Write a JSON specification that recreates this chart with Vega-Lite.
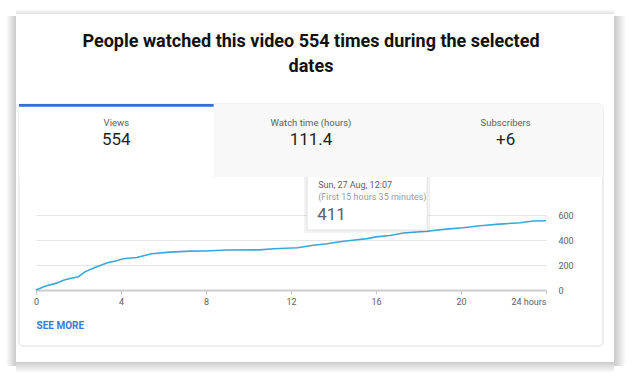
{
  "$schema": "https://vega.github.io/schema/vega-lite/v6.json",
  "autosize": "none",
  "width": 510,
  "height": 75,
  "padding": {"left": 36, "top": 215, "right": 90, "bottom": 87},
  "background": "white",
  "config": {"font": "Roboto", "view": {"stroke": null}},
  "title": {
    "text": ["People watched this video 554 times during the selected", "dates"],
    "fontSize": 18,
    "fontWeight": "bold",
    "color": "#111111",
    "lineHeight": 25,
    "anchor": "middle",
    "frame": "group",
    "dx": 20,
    "offset": -67
  },
  "layer": [
    {
      "data": {"values": [
        {"hour": 0, "views": 0}, {"hour": 0.42, "views": 30}, {"hour": 0.97, "views": 55},
        {"hour": 1.29, "views": 78}, {"hour": 1.6, "views": 92}, {"hour": 2.0, "views": 106},
        {"hour": 2.3, "views": 145}, {"hour": 2.86, "views": 186}, {"hour": 3.4, "views": 220},
        {"hour": 3.8, "views": 234}, {"hour": 4.1, "views": 250}, {"hour": 4.74, "views": 260},
        {"hour": 5.44, "views": 290}, {"hour": 6.3, "views": 303}, {"hour": 7.25, "views": 311},
        {"hour": 7.95, "views": 312}, {"hour": 8.97, "views": 320}, {"hour": 10.5, "views": 321},
        {"hour": 11.2, "views": 330}, {"hour": 12.3, "views": 338}, {"hour": 13.05, "views": 358},
        {"hour": 13.7, "views": 370}, {"hour": 14.3, "views": 386}, {"hour": 14.9, "views": 398},
        {"hour": 15.58, "views": 411}, {"hour": 16.0, "views": 425}, {"hour": 16.66, "views": 436},
        {"hour": 17.3, "views": 456}, {"hour": 18.4, "views": 470}, {"hour": 19.3, "views": 487},
        {"hour": 20.1, "views": 498}, {"hour": 20.9, "views": 514}, {"hour": 21.8, "views": 527},
        {"hour": 22.8, "views": 538}, {"hour": 23.4, "views": 552}, {"hour": 24, "views": 554}
      ]},
      "layer": [
        {
          "mark": {"type": "line", "color": "#3aa8d8", "strokeWidth": 1.6},
          "encoding": {
            "x": {
              "field": "hour", "type": "quantitative",
              "scale": {"domain": [0, 24], "nice": false, "zero": false},
              "axis": {
                "values": [0, 4, 8, 12, 16, 20, 24],
                "grid": false,
                "domainColor": "#cccccc", "domainWidth": 2,
                "tickColor": "#cccccc", "tickSize": 4,
                "labelPadding": 3, "labelFontSize": 9, "labelColor": "#606060",
                "labelExpr": "datum.value == 24 ? '24 hours' : datum.label",
                "labelAlign": {"condition": {"test": "datum.value == 24", "value": "right"}, "value": "center"},
                "title": "SEE MORE",
                "titleAnchor": "start", "titleAlign": "left",
                "titleColor": "#3c78d8", "titleFontWeight": "bold", "titleFontSize": 10,
                "titlePadding": 14
              }
            },
            "y": {
              "field": "views", "type": "quantitative",
              "scale": {"domain": [0, 600], "nice": false},
              "axis": {
                "orient": "right",
                "values": [0, 200, 400, 600],
                "labelOverlap": false,
                "grid": true, "gridColor": "#e6e6e6",
                "domain": false, "ticks": false,
                "labelPadding": 12, "labelFontSize": 9, "labelColor": "#606060",
                "title": null
              }
            }
          }
        },
        {
          "data": {"values": [{}]},
          "mark": {"type": "rect", "fill": {"gradient": "linear", "x1": 0, "y1": 0, "x2": 1, "y2": 0, "stops": [{"offset": 0, "color": "#ffffff"}, {"offset": 1, "color": "#c9c9c9"}]}},
          "encoding": {
            "x": {"datum": -1.4118, "type": "quantitative", "axis": null}, "x2": {"datum": -0.9412},
            "y": {"datum": 2192, "type": "quantitative", "axis": null}, "y2": {"datum": -608}
          }
        },
        {
          "data": {"values": [{}]},
          "mark": {"type": "rect", "fill": {"gradient": "linear", "x1": 0, "y1": 0, "x2": 1, "y2": 0, "stops": [{"offset": 0, "color": "#c9c9c9"}, {"offset": 1, "color": "#ffffff"}]}},
          "encoding": {
            "x": {"datum": 27.2, "type": "quantitative", "axis": null}, "x2": {"datum": 27.765},
            "y": {"datum": 2192, "type": "quantitative", "axis": null}, "y2": {"datum": -608}
          }
        },
        {
          "data": {"values": [{}]},
          "mark": {"type": "rect", "fill": {"gradient": "linear", "x1": 0, "y1": 0, "x2": 0, "y2": 1, "stops": [{"offset": 0, "color": "#cbcbcb"}, {"offset": 1, "color": "#ffffff"}]}},
          "encoding": {
            "x": {"datum": -0.9412, "type": "quantitative", "axis": null}, "x2": {"datum": 27.2},
            "y": {"datum": -576, "type": "quantitative", "axis": null}, "y2": {"datum": -664}
          }
        },
        {
          "data": {"values": [{}]},
          "mark": {"type": "rect", "fill": {"gradient": "linear", "x1": 0, "y1": 0, "x2": 0, "y2": 1, "stops": [{"offset": 0, "color": "#ffffff"}, {"offset": 1, "color": "#e2e2e2"}]}},
          "encoding": {
            "x": {"datum": -0.9412, "type": "quantitative", "axis": null}, "x2": {"datum": 27.2},
            "y": {"datum": 2248, "type": "quantitative", "axis": null}, "y2": {"datum": 2208}
          }
        },
        {
          "data": {"values": [{}]},
          "mark": {"type": "rect", "fill": null, "stroke": "#dedede", "strokeWidth": 1, "cornerRadius": 4},
          "encoding": {
            "x": {"datum": -0.8, "type": "quantitative", "axis": null}, "x2": {"datum": 26.682},
            "y": {"datum": 1488, "type": "quantitative", "axis": null}, "y2": {"datum": -448}
          }
        },
        {
          "data": {"values": [{"time": 15.583, "views": 411, "when": "Sun, 27 Aug, 12:07", "span": "(First 15 hours 35 minutes)"}]},
          "encoding": {
            "x": {"field": "time", "type": "quantitative", "axis": null},
            "y": {"field": "views", "type": "quantitative", "axis": null}
          },
          "layer": [
            {"mark": {"type": "point", "shape": "M-1.05,-1.13H1.05V-0.1H-1.05Z", "size": 14400, "filled": true, "fill": "#000000", "opacity": 0.06, "strokeWidth": 0}},
            {"mark": {"type": "point", "shape": "M-1,-1.11H1V-0.143H-1Z", "size": 14400, "filled": true, "fill": "#ffffff", "stroke": "#e4e4e4", "strokeWidth": 1, "opacity": 1}},
            {"mark": {"type": "text", "align": "left", "baseline": "middle", "dx": -49, "dy": -53.6, "fontSize": 9, "color": "#606060"}, "encoding": {"text": {"field": "when"}}},
            {"mark": {"type": "text", "align": "left", "baseline": "middle", "dx": -49, "dy": -42, "fontSize": 9, "color": "#9a9a9a"}, "encoding": {"text": {"field": "span"}}},
            {"mark": {"type": "text", "align": "left", "baseline": "middle", "dx": -50, "dy": -23.6, "fontSize": 17, "color": "#606060"}, "encoding": {"text": {"field": "views", "type": "quantitative"}}}
          ]
        }
      ],
      "resolve": {"axis": {"x": "independent", "y": "independent"}}
    },
    {
      "data": {"values": [
        {"metric": "Views", "value": "554", "selected": true},
        {"metric": "Watch time (hours)", "value": "111.4", "selected": false},
        {"metric": "Subscribers", "value": "+6", "selected": false}
      ]},
      "encoding": {
        "x": {
          "field": "metric", "type": "nominal", "sort": null,
          "scale": {"range": [-17, 567], "paddingInner": 0, "paddingOuter": 0},
          "axis": null
        }
      },
      "layer": [
        {
          "mark": {"type": "rect"},
          "encoding": {
            "y": {"datum": 1488, "type": "quantitative", "axis": null}, "y2": {"datum": 904},
            "fill": {"condition": {"test": "datum.selected", "value": "#ffffff"}, "value": "#f8f8f8"}
          }
        },
        {
          "transform": [{"filter": "datum.selected"}],
          "mark": {"type": "rect", "color": "#2e6ee0"},
          "encoding": {
            "y": {"datum": 1488, "type": "quantitative", "axis": null}, "y2": {"datum": 1466}
          }
        },
        {
          "mark": {"type": "text", "align": "center", "baseline": "middle", "fontSize": 9.5, "color": "#606060"},
          "encoding": {
            "y": {"datum": 1336, "type": "quantitative", "axis": null},
            "text": {"field": "metric"}
          }
        },
        {
          "mark": {"type": "text", "align": "center", "baseline": "middle", "fontSize": 17, "color": "#1f1f1f"},
          "encoding": {
            "y": {"datum": 1200, "type": "quantitative", "axis": null},
            "text": {"field": "value"}
          }
        }
      ]
    }
  ],
  "resolve": {"scale": {"x": "independent"}, "axis": {"x": "independent", "y": "independent"}}
}
